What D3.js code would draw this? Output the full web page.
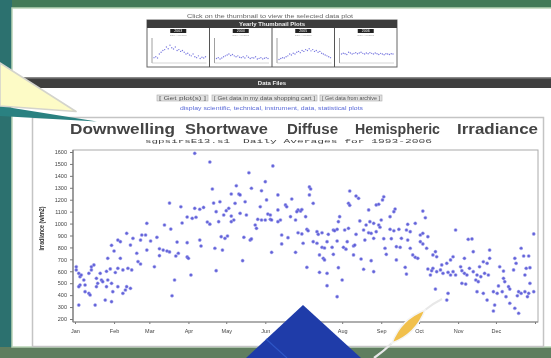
<!DOCTYPE html>
<html><head><meta charset="utf-8">
<script src="https://cdn.jsdelivr.net/npm/d3@7"></script>
<style>body{margin:0;background:#44785a;overflow:hidden}svg{display:block;filter:blur(0.3px)}</style>
</head><body>
<svg id="c" width="551" height="358"></svg>
<script>
// ---------- data ----------
const months = ["Jan","Feb","Mar","Apr","May","Jun","Jul","Aug","Sep","Oct","Nov","Dec"];
const monthStartDays = [1,32,60,91,121,152,182,213,244,274,305,335,366];
const yTicks = [200,300,400,500,600,700,800,900,1000,1100,1200,1300,1400,1500,1600];
const titleWords = ["Downwelling","Shortwave","Diffuse","Hemispheric","Irradiance"];
const subtitleParts = ["sgpsirsE13.s1","Daily Averages for 1993-2006"];
const yAxisTitle = "Irradiance (w/m2)";
// [day of year, daily average irradiance]
const dailyPoints = [
[2,638],[2,611],[4,583],[5,555],[6,569],[8,527],[5,485],[4,471],[9,485],[9,429],[12,415],[13,401],[12,583],[14,638],[16,653],[14,611],[18,541],[21,583],[19,499],[18,471],[22,527],[23,513],[26,471],[27,527],[30,499],[31,429],[35,471],[39,415],[41,443],[42,471],[45,457],[46,611],[43,625],[39,611],[35,625],[33,590],[29,620],[26,600],[4,317],[17,317],[25,359],[30,345],[27,709],[35,862],[37,709],[42,918],[45,820],[47,876],[50,751],[51,681],[53,862],[54,904],[57,904],[58,1002],[58,778],
[72,988],[77,954],[66,885],[61,854],[68,789],[71,778],[74,770],[76,762],[82,845],[90,840],[100,862],[101,812],[112,793],[68,731],[81,728],[83,751],[90,720],[91,709],[64,638],[80,527],[93,569],[113,605],[78,395],[96,1589],[108,1516],[110,1290],[76,1172],[85,1141],[96,1128],[100,1120],[103,1135],[111,1172],[113,1100],[90,1055],[94,1044],[97,1053],[106,1013],[108,995],[86,1005],[30,818],[37,848],[32,770],[53,661],
[158,1483],[139,1426],[152,1351],[129,1317],[141,1296],[187,1307],[188,1290],[219,1273],[226,1212],[224,1231],[125,1248],[131,1248],[132,1240],[149,1275],[162,1240],[187,1240],[173,1206],[116,1183],[128,1170],[136,1183],[153,1198],[168,1156],[169,1141],[190,1170],[218,1170],[219,1153],[123,1128],[121,1108],[148,1141],[162,1114],[178,1114],[180,1105],[181,1118],[177,1100],[234,1114],[240,1156],[119,1072],[125,1063],[127,1030],[125,1016],[132,1086],[137,1072],[154,1080],[156,1072],[146,1036],[149,1030],[152,1030],[156,1036],[157,1030],[144,988],[145,960],[164,1030],[162,1016],[172,1058],[176,1030],[184,1058],[211,1058],[210,1016],[227,1022],[232,988],[235,1016],[238,1002],[242,988],[115,1016],[218,960],[185,952],[186,940],[178,923],[181,913],[165,904],[170,882],[193,932],[194,910],[197,923],[202,910],[206,946],[207,940],[209,952],[215,946],[224,910],[230,946],[234,923],[236,918],[240,932],[117,890],[120,876],[122,896],[135,885],[140,862],[141,871],[190,848],[193,835],[201,848],[209,854],[217,848],[231,862],[238,876],[118,778],[165,829],[182,835],[197,801],[199,795],[205,801],[214,801],[216,785],[222,812],[223,820],[157,759],[176,759],[195,737],[198,709],[199,695],[206,742],[222,737],[228,703],[236,689],[134,689],[185,633],[195,591],[201,583],[210,630],[230,617],[238,597],[213,527],[201,479],[209,387],
[246,1225],[245,1198],[242,1162],[255,1122],[254,1100],[277,1105],[279,1049],[251,1058],[244,1030],[265,994],[271,1002],[243,969],[251,952],[254,940],[258,952],[264,946],[267,932],[275,904],[277,918],[281,890],[246,873],[252,873],[260,876],[265,862],[275,848],[277,829],[256,806],[259,801],[247,793],[248,742],[267,793],[280,793],[303,946],[313,868],[316,871],[330,778],[317,764],[355,793],[357,728],[361,728],[365,913],[287,764],[285,737],[288,722],[269,737],[271,717],[273,709],[301,722],[299,695],[310,709],[296,667],[292,653],[256,695],[263,633],[264,577],[281,619],[284,605],[285,625],[283,569],[288,597],[291,611],[293,583],[297,591],[299,569],[301,597],[303,569],[307,638],[308,605],[310,583],[312,569],[314,625],[317,597],[320,569],[322,638],[325,680],[328,667],[323,555],[319,527],[321,513],[330,709],[326,583],[329,569],[338,638],[341,602],[349,611],[351,667],[350,709],[358,569],[359,625],[362,630],[308,499],[311,493],[320,429],[325,415],[328,359],[333,429],[336,415],[334,317],[337,477],[340,429],[341,541],[342,513],[345,471],[346,451],[343,387],[346,332],[350,290],[353,429],[355,415],[358,429],[361,415],[365,429],[352,395],[360,387],[353,248],[333,267],[297,415],[296,359],[287,451],[362,499]
];
// yearly thumbnails (roughly twice-monthly values)
const thumbYears = ["2003","2004","2005","2006"];
const thumbA = [500,550,480,700,800,900,950,1100,1000,1200,1050,980,1100,900,950,850,900,800,700,750,650,600,700,550,500,600,450,520,480,550];
const thumbB = [450,500,420,480,550,600,650,700,620,680,600,550,600,520,500,550,480,600,520,450,500,480,550,420,460,500,430,470,500,450];
const thumbC = [400,450,500,480,550,600,700,650,750,700,800,850,780,900,850,950,900,1000,880,950,850,900,800,850,750,700,650,600,550,500];
const thumbD = [700,750,720,680,800,760,700,740,780,720,760,800,740,700,760,720,780,740,700,760,720,680,740,700,660,720,700,680,720,700];
const thumbSeries = [thumbA, thumbB, thumbC, thumbD];
const buttonLabels = ["[ Get plot(s) ]","[ Get data in my data shopping cart ]","[ Get data from archive ]"];

// ---------- drawing ----------
const svg = d3.select("#c");
const F = "'Liberation Sans', Arial, sans-serif";

// frame background
svg.append("rect").attr("width",551).attr("height",358).attr("fill","#437a58");
svg.append("rect").attr("x",0).attr("y",0).attr("width",12).attr("height",358).attr("fill","#2c716f");
svg.append("rect").attr("x",0).attr("y",347).attr("width",551).attr("height",11).attr("fill","#5f7e5f");
svg.append("rect").attr("x",12).attr("y",8).attr("width",545).attr("height",339)
  .attr("fill","#ffffff").attr("stroke","#b9d3b6").attr("stroke-width",1.5);

// top: thumbnail table
svg.append("text").attr("x",270).attr("y",18).attr("text-anchor","middle")
  .attr("font-family",F).attr("font-size",5).attr("fill","#666")
  .attr("textLength",166).attr("lengthAdjust","spacingAndGlyphs")
  .text("Click on the thumbnail to view the selected data plot");
svg.append("rect").attr("x",147).attr("y",20).attr("width",250).attr("height",47)
  .attr("fill","#fff").attr("stroke","#666").attr("stroke-width",1);
svg.append("rect").attr("x",147).attr("y",20).attr("width",250).attr("height",8).attr("fill","#3c3c3c");
svg.append("text").attr("x",272).attr("y",26.3).attr("text-anchor","middle")
  .attr("font-family",F).attr("font-weight","bold").attr("font-size",6).attr("fill","#eee")
  .text("Yearly Thumbnail Plots");
const cellX = d3.scaleBand().domain(thumbYears).range([147,397]);
const ty = d3.scaleLinear().domain([200,1600]).range([63,38]);
thumbYears.forEach((yr,i)=>{
  const x0 = cellX(yr), w = cellX.bandwidth();
  const g = svg.append("g");
  if(i>0) g.append("line").attr("x1",x0).attr("x2",x0).attr("y1",28).attr("y2",67).attr("stroke","#555");
  g.append("rect").attr("x",x0+w/2-8).attr("y",29).attr("width",16).attr("height",4).attr("fill","#222");
  g.append("text").attr("x",x0+w/2).attr("y",32.3).attr("text-anchor","middle")
    .attr("font-family",F).attr("font-size",3.5).attr("fill","#fff").text(yr);
  g.append("text").attr("x",x0+w/2).attr("y",36).attr("text-anchor","middle")
    .attr("font-family",F).attr("font-size",2.5).attr("fill","#999").text("Daily Averages");
  g.append("line").attr("x1",x0+5).attr("x2",x0+5).attr("y1",38).attr("y2",63).attr("stroke","#888").attr("stroke-width",0.8);
  g.append("line").attr("x1",x0+5).attr("x2",x0+w-3).attr("y1",63).attr("y2",63).attr("stroke","#bbb").attr("stroke-width",0.6);
  const tx = d3.scaleLinear().domain([0,thumbSeries[i].length-1]).range([x0+7,x0+w-4]);
  g.selectAll("circle").data(thumbSeries[i]).join("circle")
    .attr("cx",(d,j)=>tx(j)).attr("cy",d=>ty(d)).attr("r",0.7).attr("fill","#7a7ae0");
});

// data files band
svg.append("rect").attr("x",12).attr("y",77).attr("width",545).attr("height",11).attr("fill","#3f3f3f");
svg.append("rect").attr("x",12).attr("y",77).attr("width",545).attr("height",1.5).attr("fill","#8a8a8a");
svg.append("text").attr("x",272).attr("y",85).attr("text-anchor","middle")
  .attr("font-family",F).attr("font-weight","bold").attr("font-size",6).attr("fill","#eee").text("Data Files");
const btnX = [157,212,320], btnW = [51,105,62];
buttonLabels.forEach((t,i)=>{
  svg.append("rect").attr("x",btnX[i]).attr("y",95).attr("width",btnW[i]).attr("height",6)
    .attr("fill","#e2e2e2").attr("stroke","#aaa").attr("stroke-width",0.6);
  svg.append("text").attr("x",btnX[i]+2).attr("y",99.6).attr("font-family",F).attr("font-size",4.5)
    .attr("fill","#555").attr("textLength",btnW[i]-4).attr("lengthAdjust","spacingAndGlyphs").text(t);
});
svg.append("text").attr("x",180).attr("y",110).attr("font-family",F).attr("font-size",5)
  .attr("fill","#5a6ad8").attr("textLength",183).attr("lengthAdjust","spacingAndGlyphs")
  .text("display scientific, technical, instrument, data, statistical plots");

// chart frame
svg.append("rect").attr("x",32.5).attr("y",117.5).attr("width",511).attr("height",229)
  .attr("fill","#fff").attr("stroke","#c4c4c4").attr("stroke-width",1.5);

// title (words stretched)
const titleX = [[70,175],[185,268],[287,338],[355,440],[457,538]];
titleWords.forEach((w,i)=>{
  svg.append("text").attr("x",titleX[i][0]).attr("y",133.5)
    .attr("font-family",F).attr("font-weight","bold").attr("font-size",14).attr("fill","#444")
    .attr("textLength",titleX[i][1]-titleX[i][0]).attr("lengthAdjust","spacingAndGlyphs").text(w);
});
const subX = [[145,230],[243,432]];
subtitleParts.forEach((t,i)=>{
  svg.append("text").attr("x",subX[i][0]).attr("y",142.5)
    .attr("font-family","'Liberation Mono', monospace").attr("font-size",6).attr("fill","#444")
    .attr("textLength",subX[i][1]-subX[i][0]).attr("lengthAdjust","spacingAndGlyphs").text(t);
});

// scales
const x = d3.scaleLinear().domain([1,366]).range([75,535]);
const y = d3.scaleLinear().domain([200,1600]).range([319,152]);

// plot frame
svg.append("rect").attr("x",73).attr("y",150).attr("width",465).attr("height",172)
  .attr("fill","#fff").attr("stroke","#aaa").attr("stroke-width",1);

const yAxis = svg.append("g").attr("transform","translate(73,0)")
  .call(d3.axisLeft(y).tickValues(yTicks).tickSize(3).tickPadding(3).tickFormat(d3.format("d")));
yAxis.select(".domain").remove();
yAxis.selectAll("line").attr("stroke","#777");
yAxis.selectAll("text").attr("font-family",F).attr("font-size",5.5).attr("fill","#444");
svg.append("line").attr("x1",73).attr("x2",73).attr("y1",150).attr("y2",322).attr("stroke","#777").attr("stroke-width",1.2);

const xAxis = svg.append("g").attr("transform","translate(0,322)")
  .call(d3.axisBottom(x).tickValues(monthStartDays).tickSize(2).tickPadding(5)
    .tickFormat((d,i)=>months[i]||""));
xAxis.select(".domain").remove();
xAxis.selectAll("line").attr("stroke","#777");
xAxis.selectAll("text").attr("font-family",F).attr("font-size",5.5).attr("fill","#444");
svg.append("line").attr("x1",73).attr("x2",538).attr("y1",322).attr("y2",322).attr("stroke","#888").attr("stroke-width",1.2);

svg.append("text").attr("transform","translate(44,228.5) rotate(-90)").attr("text-anchor","middle")
  .attr("font-family",F).attr("font-weight","bold").attr("font-size",7).attr("fill","#333")
  .attr("textLength",44).attr("lengthAdjust","spacingAndGlyphs").text(yAxisTitle);

// points
svg.append("g").selectAll("circle").data(dailyPoints).join("circle")
  .attr("cx",d=>x(d[0])).attr("cy",d=>y(d[1])).attr("r",1.6)
  .attr("fill","#5252d4").attr("stroke","#a0a0ee").attr("stroke-width",0.5).attr("opacity",0.9);

// decorative overlays (slide graphics)
svg.append("polygon").attr("points","0,106 97,121.5 0,116").attr("fill","#2a8181");
svg.append("polygon").attr("points","0,63 76,111.5 0,106").attr("fill","#fdfbc6")
  .attr("stroke","#d4d4cc").attr("stroke-width",1.6).attr("stroke-linejoin","round");
svg.append("polygon").attr("points","303,305 361,358 246,358").attr("fill","#1f3ca9");
svg.append("line").attr("x1",266).attr("y1",339).attr("x2",287).attr("y2",358).attr("stroke","#2e56c6").attr("stroke-width",1.2);
svg.append("path").attr("d","M442,299 Q432,304 425,310").attr("fill","none").attr("stroke","#e8e8e8").attr("stroke-width",2);
svg.append("path").attr("d","M392,343 Q384,351 374,358").attr("fill","none").attr("stroke","#e8e8e8").attr("stroke-width",2.2);
svg.append("path").attr("d","M425,310 Q416,334 392,343 Q401,319 425,310 Z").attr("fill","#f1c04c")
  .attr("stroke","#f4f4f4").attr("stroke-width",1.4);
</script>
</body></html>
